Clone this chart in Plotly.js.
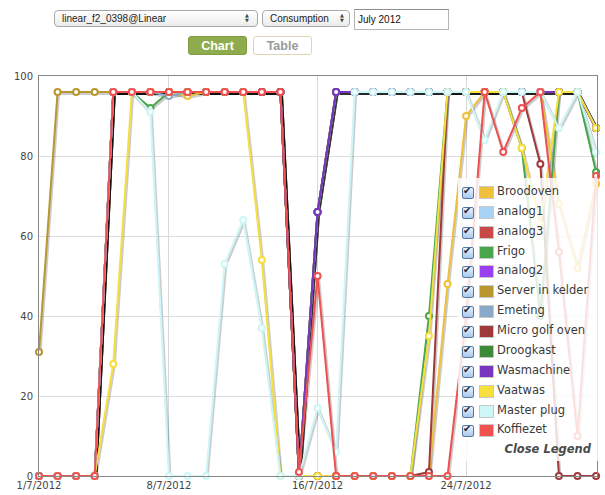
<!DOCTYPE html>
<html>
<head>
<meta charset="utf-8">
<script src="https://cdn.plot.ly/plotly-3.0.1.min.js"></script>
<style>
  body { margin:0; width:605px; height:495px; overflow:hidden; background:#fff; position:relative; font-family:"Liberation Sans", Arial, sans-serif; }
  #plot { position:absolute; left:0; top:0; width:605px; height:495px; }
  .sel { position:absolute; height:15px; border:1px solid #a9a9a9; border-radius:4px;
         background:linear-gradient(#ffffff,#ececec); font-size:10px; color:#222; line-height:15px; box-sizing:content-box; }
  .sel .t { position:absolute; left:7px; top:0; }
  .sel .arr { position:absolute; top:2px; font-family:"DejaVu Sans"; font-size:5px; line-height:5px; color:#444; }
  #inp { position:absolute; left:354px; top:9px; width:93px; height:19px; border:1px solid #b5b5b5; border-top-color:#8e8e8e;
         font-size:10px; color:#111; line-height:19px; }
  #inp span { position:absolute; left:3px; }
  .btn { position:absolute; top:36px; height:19px; width:59px; border-radius:3px; box-sizing:border-box;
         font-weight:bold; font-size:12.5px; text-align:center; line-height:19px; }
  #legend { position:absolute; left:458px; top:178px; width:140px; height:283px; background:rgba(255,255,255,0.82); }
  .row { position:absolute; left:0; height:14px; }
  .cb { position:absolute; left:4px; top:0; width:10px; height:10px; border:1px solid #56799f; border-radius:2px;
        background:linear-gradient(#e9f2fc,#a9c8ec); }
  .cb span { position:absolute; left:0px; top:-3px; font-family:"DejaVu Sans"; font-size:10px; font-weight:bold; color:#162640; }
  .sw { position:absolute; left:21px; top:-1px; width:13px; height:11px; border:1px solid #c8c8c8; }
  .lt { position:absolute; left:39px; top:-3px; font-family:"DejaVu Sans"; font-size:11.5px; color:#3a3a3a; white-space:nowrap; }
  #close { position:absolute; right:7px; top:264px; font-family:"DejaVu Sans"; font-size:11.5px; font-weight:bold; font-style:italic; color:#4a4a4a; }
</style>
</head>
<body>
<div id="plot"></div>

<div class="sel" style="left:54px; top:10px; width:202px;"><span class="t">linear_f2_0398@Linear</span><span class="arr" style="left:190px;">▲<br>▼</span></div>
<div class="sel" style="left:262px; top:10px; width:86px;"><span class="t">Consumption</span><span class="arr" style="left:77px;">▲<br>▼</span></div>
<div id="inp"><span>July 2012</span></div>
<div class="btn" style="left:188px; background:#8eab4e; border:1px solid #7f9c43; color:#fff;">Chart</div>
<div class="btn" style="left:253px; background:#fff; border:1px solid #ddd5b5; color:#9a9a9a;">Table</div>

<div id="legend"></div>

<script>
// ---------- data ----------
const days = ['2012-07-01','2012-07-02','2012-07-03','2012-07-04','2012-07-05','2012-07-06','2012-07-07',
  '2012-07-08','2012-07-09','2012-07-10','2012-07-11','2012-07-12','2012-07-13','2012-07-14','2012-07-15',
  '2012-07-16','2012-07-17','2012-07-18','2012-07-19','2012-07-20','2012-07-21','2012-07-22','2012-07-23',
  '2012-07-24','2012-07-25','2012-07-26','2012-07-27','2012-07-28','2012-07-29','2012-07-30','2012-07-31'];

const tickVals = ['2012-07-01','2012-07-08','2012-07-16','2012-07-24'];
const tickText = ['1/7/2012','8/7/2012','16/7/2012','24/7/2012'];
const yTicks = [0,20,40,60,80,100];

const broodoven     = [0,0,0,0,96,96,96,96,95,96,96,96,96,96,0,0,0,0,0,0,0,0,48,90,96,96,96,96,68,52,73];
const analog1       = [0,0,0,0,96,96,96,96,96,96,96,96,96,96,0,66,96,96,96,96,96,96,96,96,96,96,96,96,96,96,87];
const analog3       = [0,0,0,0,96,96,96,96,96,96,96,96,96,96,0,66,96,96,96,96,96,96,96,96,96,96,96,96,96,96,87];
const frigo         = [0,0,0,0,96,96,92,96,96,96,96,96,96,96,0,0,0,0,0,0,0,40,96,96,96,96,82,40,96,96,76];
const analog2       = [0,0,0,0,96,96,96,96,96,96,96,96,96,96,0,66,96,96,96,96,96,96,96,96,96,96,96,96,96,96,87];
const serverInKelder= [31,96,96,96,96,96,96,96,96,96,96,96,96,96,0,66,96,96,96,96,96,96,96,96,96,96,96,96,96,96,87];
const emeting       = [0,0,0,0,96,96,96,95,96,96,96,96,96,96,0,66,96,96,96,96,96,96,96,96,96,96,96,96,96,96,87];
const microGolfOven = [0,0,0,0,96,96,96,96,96,96,96,96,96,96,0,0,0,0,0,0,0,1,96,96,96,96,96,78,0,0,0];
const droogkast     = [0,0,0,0,96,96,96,96,96,96,96,96,96,96,0,66,96,96,96,96,96,96,96,96,96,96,96,96,96,96,87];
const wasmachine    = [0,0,0,0,96,96,96,96,96,96,96,96,96,96,0,66,96,96,96,96,96,96,96,96,96,96,96,96,96,96,87];
const vaatwas       = [0,0,0,0,28,96,96,96,96,96,96,96,54,0,0,0,0,0,0,0,0,35,96,96,96,96,82,63,96,96,87];
const masterPlug    = [0,0,0,0,96,96,91,0,0,0,53,64,37,0,0,17,6,96,96,96,96,96,96,96,84,96,96,96,87,96,81];
const koffiezet     = [0,0,0,0,96,96,96,96,96,96,96,96,96,96,1,50,0,0,0,0,0,0,0,40,96,81,92,96,56,10,75];

const seriesNames = ['Broodoven','analog1','analog3','Frigo','analog2','Server in kelder','Emeting',
  'Micro golf oven','Droogkast','Wasmachine','Vaatwas','Master plug','Koffiezet'];
const seriesValues = [broodoven, analog1, analog3, frigo, analog2, serverInKelder, emeting,
  microGolfOven, droogkast, wasmachine, vaatwas, masterPlug, koffiezet];

// ---------- styles ----------
const seriesColors = ['#efc03c','#a9d3f5','#c94848','#4aa64a','#9a3ff0','#b8972f','#8aa8c8',
  '#a03a3a','#3a8a3a','#7a35c0','#f7df3c','#cdf6f6','#f0504f'];

const traces = [];
// shadows (drawn on the base, slightly shifted axes)
seriesValues.forEach((vals) => {
  traces.push({x: days, y: vals, xaxis:'x', yaxis:'y', type:'scatter', mode:'lines',
    line:{color:'rgba(0,0,0,0.2)', width:3}, hoverinfo:'skip', showlegend:false});
});
seriesValues.forEach((vals, i) => {
  traces.push({x: days, y: vals, xaxis:'x2', yaxis:'y2', type:'scatter', mode:'lines+markers',
    name: seriesNames[i], cliponaxis:false,
    line:{color:seriesColors[i], width:2},
    marker:{symbol:'circle', size:6, color:'#ffffff', line:{color:seriesColors[i], width:2}}});
});

const tickFont = {family:'DejaVu Sans', size:10, color:'#444'};
const layout = {
  width:605, height:495,
  margin:{l:39, r:8, t:76, b:19},
  paper_bgcolor:'#ffffff', plot_bgcolor:'#ffffff',
  showlegend:false,
  xaxis:{type:'date', range:['2012-06-30 22:42','2012-07-30 23:54'], visible:false, fixedrange:true},
  yaxis:{range:[0.375,100.375], visible:false, fixedrange:true},
  xaxis2:{type:'date', overlaying:'x', anchor:'y2', range:['2012-07-01 00:00','2012-07-31 01:12'],
    tickmode:'array', tickvals:tickVals, ticktext:tickText, tickfont:tickFont,
    showgrid:true, gridcolor:'#d9d9d9', showline:true, mirror:true, linecolor:'#888', linewidth:1,
    ticks:'', zeroline:false, automargin:false},
  yaxis2:{overlaying:'y', anchor:'x2', side:'left', range:[0,100], tickmode:'array', tickvals:yTicks,
    tickfont:tickFont, showgrid:true, gridcolor:'#dcdcdc', showline:true, mirror:true, linecolor:'#888',
    linewidth:1, ticks:'', zeroline:false, automargin:false, ticklabelstandoff:3}
};

Plotly.newPlot('plot', traces, layout, {displayModeBar:false, staticPlot:true});

// ---------- legend overlay ----------
const leg = document.getElementById('legend');
seriesNames.forEach((nm, i) => {
  const row = document.createElement('div');
  row.className = 'row';
  row.style.top = (9 + i*19.87) + 'px';
  row.innerHTML = '<div class="cb"><span>✔</span></div>' +
    '<div class="sw" style="background:' + seriesColors[i] + '"></div>' +
    '<div class="lt"></div>';
  row.querySelector('.lt').textContent = nm;
  leg.appendChild(row);
});
const cl = document.createElement('div');
cl.id = 'close';
cl.textContent = 'Close Legend';
leg.appendChild(cl);
</script>
</body>
</html>
